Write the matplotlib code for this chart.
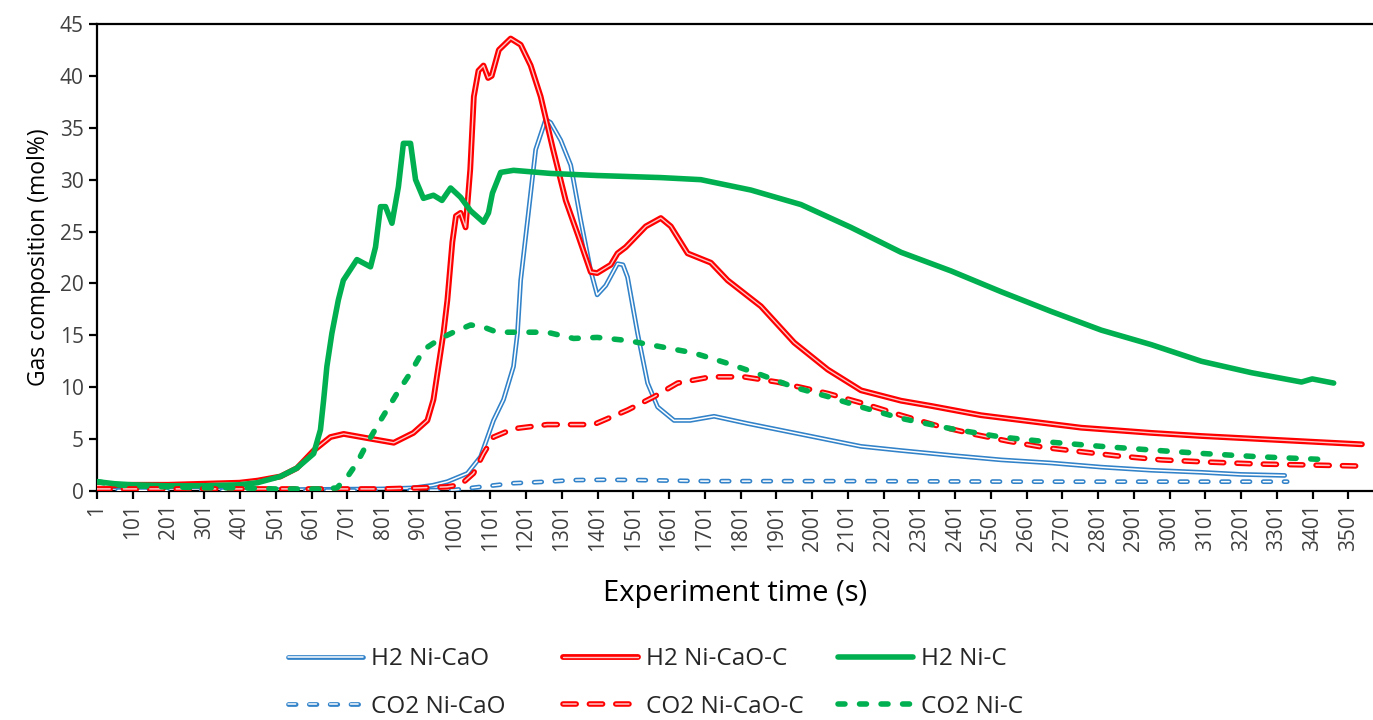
import matplotlib
matplotlib.use("Agg")
import matplotlib.pyplot as plt

plt.rcParams['font.family'] = ['Open Sans', 'DejaVu Sans']
plt.rcParams['lines.scale_dashes'] = False

# ---------------- data ----------------
x_ticks = list(range(1, 3502, 100))

h2_nicao_t = [1, 200, 400, 600, 800, 886, 940, 981, 1037, 1074, 1110, 1138, 1166, 1177, 1186,
              1205, 1228, 1256, 1270, 1298, 1326, 1354, 1382, 1400, 1424, 1457, 1472, 1485, 1513,
              1541, 1569, 1615, 1660, 1727, 1821, 1951, 2138, 2250, 2400, 2530, 2670, 2810, 2950,
              3090, 3200, 3323]
h2_nicao_v = [0.1, 0.1, 0.1, 0.15, 0.2, 0.3, 0.55, 0.9, 1.7, 3.3, 6.8, 8.8, 12, 15.2, 20.3,
              26, 32.9, 35.8, 35.5, 33.8, 31.4, 26.1, 21.2, 18.9, 19.8, 21.9, 21.8, 20.6, 15.2,
              10.4, 8.1, 6.8, 6.8, 7.2, 6.5, 5.6, 4.3, 3.9, 3.4, 3.0, 2.7, 2.3, 2.0,
              1.8, 1.6, 1.5]

h2_nicaoc_t = [1, 100, 200, 300, 400, 450, 514, 560, 607, 654, 691, 756, 831, 886, 925, 942, 956,
               970, 981, 995, 1005, 1018, 1032, 1045, 1055, 1068, 1082, 1095, 1105, 1125, 1158,
               1186, 1214, 1242, 1276, 1312, 1348, 1382, 1400, 1438, 1457, 1480, 1536, 1578, 1606,
               1653, 1718, 1765, 1858, 1951, 2045, 2138, 2250, 2334, 2474, 2614, 2754, 2950, 3090,
               3258, 3426, 3539]
h2_nicaoc_v = [0.5, 0.6, 0.6, 0.7, 0.8, 1.0, 1.4, 2.2, 3.9, 5.2, 5.5, 5.1, 4.65, 5.6, 6.8, 8.8, 12,
               15.2, 18.4, 24, 26.5, 26.8, 25.4, 31, 38, 40.5, 41, 39.8, 40, 42.5, 43.6,
               43, 41, 38, 33, 28, 24.5, 21.1, 21, 21.8, 22.9, 23.5, 25.5, 26.3, 25.5,
               22.9, 22, 20.3, 17.8, 14.3, 11.7, 9.7, 8.7, 8.2, 7.3, 6.7, 6.1, 5.6, 5.3,
               5.0, 4.7, 4.5]

h2_nic_t = [1, 50, 100, 200, 300, 400, 450, 514, 560, 607, 626, 635, 644, 658, 676, 690, 728, 766,
            780, 794, 808, 826, 844, 858, 878, 892, 914, 942, 966, 990, 1018, 1046, 1082, 1096,
            1107, 1130, 1166, 1270, 1400, 1578, 1690, 1830, 1970, 2110, 2250, 2390, 2530, 2670,
            2810, 2950, 3090, 3230, 3370, 3400, 3460]
h2_nic_v = [0.9, 0.7, 0.6, 0.5, 0.5, 0.6, 0.8, 1.4, 2.2, 3.6, 5.9, 8.8, 12, 15.2, 18.4, 20.3, 22.3,
            21.6, 23.5, 27.4, 27.4, 25.8, 29.3, 33.5, 33.5, 30, 28.2, 28.5, 28, 29.2, 28.3, 27,
            25.9, 26.8, 28.7, 30.7, 30.9, 30.6, 30.4, 30.2, 30.0, 29.0, 27.6, 25.4, 23.0, 21.2,
            19.2, 17.3, 15.5, 14.1, 12.5, 11.4, 10.5, 10.8, 10.4]

co2_nicao_t = [1, 400, 800, 1000, 1074, 1166, 1260, 1334, 1420, 1500, 1700, 2138, 2600, 3000, 3330]
co2_nicao_v = [0.05, 0.05, 0.05, 0.1, 0.4, 0.75, 0.9, 1.05, 1.08, 1.06, 0.95, 0.95, 0.9, 0.9, 0.9]

co2_nicaoc_t = [1, 200, 400, 600, 800, 900, 980, 1018, 1054, 1082, 1110, 1166, 1260, 1334, 1390,
                1485, 1560, 1625, 1718, 1810, 1904, 2045, 2138, 2250, 2350, 2450, 2550, 2650,
                2750, 2850, 2978, 3100, 3250, 3400, 3540]
co2_nicaoc_v = [0.2, 0.2, 0.2, 0.2, 0.2, 0.3, 0.4, 0.6, 1.7, 3.6, 5.2, 6.0, 6.4, 6.4, 6.4,
                7.8, 9.1, 10.4, 11.0, 11.0, 10.5, 9.4, 8.5, 7.3, 6.3, 5.5, 4.8, 4.2,
                3.8, 3.4, 3.0, 2.8, 2.6, 2.5, 2.4]

co2_nic_t = [1, 50, 100, 200, 300, 400, 500, 600, 640, 672, 700, 728, 760, 794, 840, 878, 914, 962,
             998, 1046, 1082, 1120, 1186, 1260, 1334, 1400, 1485, 1578, 1670, 1765, 1858, 1951,
             2045, 2138, 2250, 2390, 2530, 2670, 2810, 2970, 3100, 3250, 3455]
co2_nic_v = [0.9, 0.6, 0.5, 0.4, 0.3, 0.3, 0.2, 0.2, 0.2, 0.3, 1.3, 2.7, 4.8, 6.8, 9.4, 11.4, 13.6,
             14.7, 15.3, 16.0, 15.8, 15.3, 15.3, 15.3, 14.7, 14.8, 14.5, 13.9, 13.3, 12.3, 11.2,
             10.0, 9.1, 8.1, 7.0, 6.0, 5.2, 4.7, 4.3, 3.9, 3.6, 3.3, 3.0]

labels = ['H2 Ni-CaO', 'H2 Ni-CaO-C', 'H2 Ni-C', 'CO2 Ni-CaO', 'CO2 Ni-CaO-C', 'CO2 Ni-C']

BLUE = '#3182C8'
RED = '#FF0000'
GREEN = '#00B050'

# ---------------- figure ----------------
fig = plt.figure(figsize=(13.73, 7.2), dpi=100)
ax = fig.add_axes([97 / 1373, 1 - 491 / 720, 1 - 97 / 1373, (491 - 24) / 720])

handles = {}

def double_line(t, v, color, outer, inner, inner_color='white', dashes=None, z=2):
    kw = dict(solid_capstyle='round', dash_capstyle='round', solid_joinstyle='round')
    l1, = ax.plot(t, v, color=color, lw=outer, zorder=z, **kw)
    l2, = ax.plot(t, v, color=inner_color, lw=inner, zorder=z + 0.1, **kw)
    if dashes is not None:
        l1.set_dashes(dashes)
        l2.set_dashes(dashes)
    return (l1, l2)

handles['H2 Ni-CaO'] = double_line(h2_nicao_t, h2_nicao_v, BLUE, 3.4, 1.1, z=2)
handles['H2 Ni-CaO-C'] = double_line(h2_nicaoc_t, h2_nicaoc_v, RED, 4.2, 1.0, inner_color='#FFC8C8', z=3)
lg, = ax.plot(h2_nic_t, h2_nic_v, color=GREEN, lw=4.0, zorder=4, solid_capstyle='round',
              solid_joinstyle='round')
handles['H2 Ni-C'] = lg
handles['CO2 Ni-CaO'] = double_line(co2_nicao_t, co2_nicao_v, BLUE, 3.4, 1.1, dashes=(5.5, 9.5), z=5)
handles['CO2 Ni-CaO-C'] = double_line(co2_nicaoc_t, co2_nicaoc_v, RED, 4.0, 1.1, inner_color='#FFC8C8',
                                      dashes=(9.5, 9.5), z=6)
lgd, = ax.plot(co2_nic_t, co2_nic_v, color=GREEN, lw=4.0, zorder=7, dash_capstyle='round')
lgd.set_dashes((5.0, 10.5))
handles['CO2 Ni-C'] = lgd

ax.set_xlim(1, 3570)
ax.set_ylim(0, 45)
ax.set_yticks(range(0, 46, 5))
ax.set_xticks(x_ticks)
ax.set_xticklabels([str(v) for v in x_ticks], rotation=90)

for s in ['left', 'bottom', 'top']:
    ax.spines[s].set_linewidth(1.6)
    ax.spines[s].set_color('black')
ax.spines['right'].set_visible(False)

ax.tick_params(axis='both', direction='out', length=6, width=1.6, colors='black',
               labelcolor='#404040', labelsize=15)
ax.tick_params(axis='x', pad=3)

ax.set_xlabel('Experiment time (s)', fontsize=21, color='black', labelpad=20)
ax.set_ylabel('Gas composition (mol%)', fontsize=16.5, color='black', labelpad=6)

# legend: three equal-width columns of two rows each (H2 on top, CO2 below)
columns = [['H2 Ni-CaO', 'CO2 Ni-CaO'], ['H2 Ni-CaO-C', 'CO2 Ni-CaO-C'], ['H2 Ni-C', 'CO2 Ni-C']]
col_x = [288 / 1373, 563 / 1373, 838 / 1373]
for names, xpos in zip(columns, col_x):
    lgnd = fig.legend([handles[k] for k in names], names, loc='center left',
                      bbox_to_anchor=(xpos, 1 - 683 / 720), ncol=1, frameon=False, fontsize=17.5,
                      handlelength=3.1, handletextpad=0.3, labelspacing=0.95, borderpad=0,
                      borderaxespad=0, labelcolor='#262626')

fig.savefig('out.png', dpi=100)
